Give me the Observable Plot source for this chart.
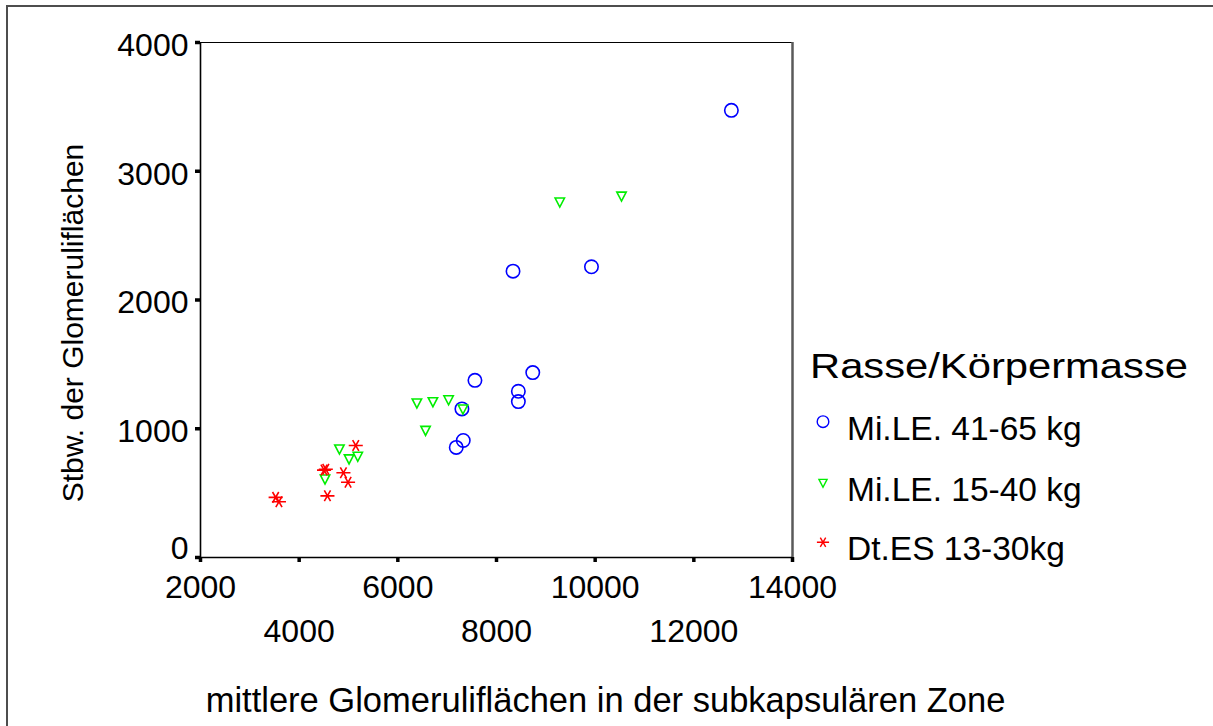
<!DOCTYPE html>
<html><head><meta charset="utf-8">
<script src="https://cdn.jsdelivr.net/npm/d3@7"></script>
<script src="https://cdn.jsdelivr.net/npm/@observablehq/plot@0.6"></script>
<style>
html,body{margin:0;padding:0;background:#fff;}
#wrap{position:relative;width:1213px;height:726px;overflow:hidden;font-family:"Liberation Sans",Arial,sans-serif;background:#fff;}
#frame{position:absolute;left:6px;top:5px;width:1400px;height:900px;border-left:2px solid #4d4d4d;border-top:2px solid #4d4d4d;}
#chart{position:absolute;left:0;top:0;}
#legend{position:absolute;left:0;top:0;}
</style></head>
<body><div id="wrap"><div id="frame"></div><div id="chart"></div><svg id="legend" width="1213" height="726"></svg></div>
<script>
// ---- data ----
const groups = ["Mi.LE. 41-65 kg", "Mi.LE. 15-40 kg", "Dt.ES 13-30kg"];
const colors = ["#0000ff", "#00ee00", "#ff0000"];

const blueX = [7563, 7299, 7326, 7184, 8443, 8443, 8735, 8335, 9925, 12761];
const blueY = [1376, 1154, 909, 855, 1291, 1211, 1436, 2224, 2258, 3473];

const greenX = [4524, 4816, 5011, 5188, 6386, 6711, 7029, 7320, 6562, 9283, 10534];
const greenY = [606, 839, 762, 782, 1196, 1206, 1221, 1149, 983, 2757, 2803];

const redX = [3523, 3590, 4504, 4540, 4573, 4897, 4991, 5147];
const redY = [467, 433, 679, 686, 479, 658, 585, 870];

const xTicksUpper = [2000, 6000, 10000, 14000];
const xTicksLower = [4000, 8000, 12000];
const yTicks = [0, 1000, 2000, 3000, 4000];

const xLabel = "mittlere Glomeruliflächen in der subkapsulären Zone";
const yLabel = "Stbw. der Glomeruliflächen";
const legendTitle = "Rasse/Körpermasse";

// ---- build table ----
const seriesX = [blueX, greenX, redX];
const seriesY = [blueY, greenY, redY];
const data = [];
groups.forEach((g, i) => seriesX[i].forEach((x, j) => data.push({group: g, x, y: seriesY[i][j]})));

// ---- symbols ----
const circleSym = {draw(ctx, size) { const r = Math.sqrt(size / Math.PI); ctx.moveTo(r, 0); ctx.arc(0, 0, r, 0, 2 * Math.PI); }};
const triDownSym = {draw(ctx, size) { const r = Math.sqrt(size / Math.PI); const hw = r * 0.7, h = r * 1.35;
  ctx.moveTo(-hw, -h / 2); ctx.lineTo(hw, -h / 2); ctx.lineTo(0, h / 2); ctx.closePath(); }};
const starSym = {draw(ctx, size) { const r = Math.sqrt(size / Math.PI); const a = r * 1.05, b = r * 0.93;
  const c = b * Math.cos(Math.PI / 3), s = b * Math.sin(Math.PI / 3);
  ctx.moveTo(-a, 0); ctx.lineTo(a, 0); ctx.moveTo(-c, -s); ctx.lineTo(c, s); ctx.moveTo(c, -s); ctx.lineTo(-c, s); }};
const symbols = [circleSym, triDownSym, starSym];

const FONT = "Liberation Sans, Arial, sans-serif";

const chart = Plot.plot({
  width: 1213, height: 726,
  marginLeft: 200, marginRight: 421, marginTop: 42, marginBottom: 169,
  x: {domain: [2000, 14000], axis: null},
  y: {domain: [0, 4000], axis: null},
  symbol: {domain: groups, range: symbols},
  color: {domain: groups, range: colors},
  style: {fontFamily: FONT, background: "transparent", color: "#000"},
  marks: [
    Plot.ruleY([4000], {stroke: "#000", strokeWidth: 1.2}),
    Plot.ruleX([14000], {stroke: "#5a5a5a", strokeWidth: 2.5}),
    Plot.ruleY([0], {stroke: "#000", strokeWidth: 1.6}),
    Plot.ruleX([2000], {stroke: "#000", strokeWidth: 1.6}),
    Plot.axisX({ticks: [...xTicksUpper, ...xTicksLower], tickSize: 5, strokeWidth: 3.5, tickFormat: () => "", label: null}),
    Plot.axisY({ticks: yTicks, tickSize: 5, strokeWidth: 3.5, tickFormat: () => "", label: null}),
    Plot.text(xTicksUpper, {x: d => d, text: d => String(d), frameAnchor: "bottom", lineAnchor: "middle", dy: 30, fontSize: 32, fill: "#000"}),
    Plot.text(xTicksLower, {x: d => d, text: d => String(d), frameAnchor: "bottom", lineAnchor: "middle", dy: 74, fontSize: 32, fill: "#000"}),
    Plot.text(yTicks.filter(d => d > 0), {y: d => d, text: d => String(d), frameAnchor: "left", textAnchor: "end", lineAnchor: "middle", dx: -12, dy: 3, fontSize: 32, fill: "#000"}),
    Plot.text(yTicks.filter(d => d === 0), {y: d => d, text: d => String(d), frameAnchor: "left", textAnchor: "end", lineAnchor: "middle", dx: -12, dy: -8.5, fontSize: 32, fill: "#000"}),
    Plot.text([yLabel], {text: d => d, frameAnchor: "left", rotate: -90, textAnchor: "middle", lineAnchor: "bottom", dx: -118, dy: 23, fontSize: 30, fill: "#000"}),
    Plot.text([xLabel], {text: d => d, frameAnchor: "bottom", textAnchor: "middle", lineAnchor: "bottom", dx: 109, dy: 154, fontSize: 34.5, fill: "#000"}),
    Plot.dot(data, {x: "x", y: "y", symbol: "group", stroke: "group", fill: "none", r: 6.7, strokeWidth: 1.6})
  ]
});
document.getElementById("chart").appendChild(chart);

// ---- legend ----
const leg = d3.select("#legend").style("font-family", FONT);
leg.append("text").attr("x", 810).attr("y", 378).attr("font-size", 35)
  .attr("textLength", 378).attr("lengthAdjust", "spacingAndGlyphs").attr("fill", "#000").text(legendTitle);
const itemY = [440, 500.5, 559.5];
const symY = [421.7, 483.3, 542.3];
groups.forEach((g, i) => {
  leg.append("path").attr("transform", `translate(823,${symY[i]})`)
    .attr("d", d3.symbol(symbols[i], Math.PI * 5.8 * 5.8)())
    .attr("fill", "none").attr("stroke", colors[i]).attr("stroke-width", 1.4);
  leg.append("text").attr("x", 847).attr("y", itemY[i]).attr("font-size", 33.5).attr("fill", "#000").text(g);
});
</script>
</body></html>
